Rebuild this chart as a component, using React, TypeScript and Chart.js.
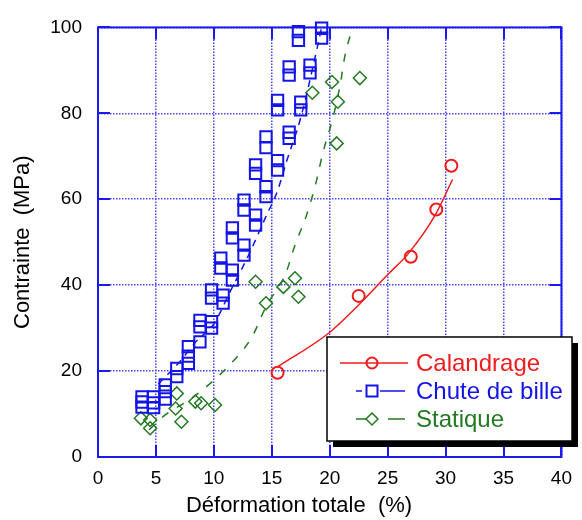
import React, { useEffect, useRef } from 'react';
import { Chart, registerables } from 'chart.js';

Chart.register(...registerables);

// ---- data -------------------------------------------------------------
const xTicks = [0, 5, 10, 15, 20, 25, 30, 35, 40];
const yTicks = [0, 20, 40, 60, 80, 100];

const calandrageX = [15.5, 22.5, 27.0, 29.2, 30.5];
const calandrageY = [19.6, 37.5, 46.6, 57.6, 67.8];
const calandrageFitX = [15.5, 19.9, 22.5, 25.1, 26.8, 29.1, 30.6];
const calandrageFitY = [21.0, 28.8, 35.4, 42.7, 47.4, 56.3, 64.6];

const chuteX = [3.8, 3.8, 3.8, 4.8, 4.8, 4.8, 5.8, 5.8, 5.8, 6.8, 6.8, 7.8, 7.8, 7.8, 8.8, 8.8, 8.8, 9.8, 9.8, 9.8, 9.8, 10.8, 10.8, 10.6, 10.6, 11.6, 11.6, 11.6, 11.6, 12.6, 12.6, 12.6, 12.6, 13.6, 13.6, 13.6, 13.6, 14.5, 14.5, 14.5, 14.5, 15.5, 15.5, 15.5, 15.5, 16.5, 16.5, 16.5, 16.5, 17.5, 17.5, 17.3, 17.3, 18.3, 18.3, 19.3, 19.3];
const chuteY = [14.0, 12.8, 11.6, 14.0, 12.6, 11.5, 16.8, 15.2, 13.5, 20.6, 18.7, 25.7, 23.5, 21.8, 26.8, 31.8, 30.3, 31.5, 30.0, 38.9, 37.0, 37.7, 35.8, 46.3, 44.0, 43.5, 41.2, 53.3, 51.0, 49.3, 47.0, 59.8, 57.5, 56.3, 54.0, 68.0, 66.0, 62.9, 60.6, 74.5, 72.0, 69.0, 66.8, 83.0, 80.8, 75.6, 74.2, 90.8, 88.9, 82.6, 80.8, 99.0, 97.0, 91.2, 89.4, 99.8, 97.5];
const chuteFitX = [5.2, 7.0, 8.5, 10.0, 11.5, 13.0, 14.5, 15.5, 16.3, 17.5, 18.9, 19.3];
const chuteFitY = [17.0, 22.0, 27.0, 31.0, 39.0, 47.0, 56.0, 62.0, 69.0, 79.0, 95.0, 100.0];

const statiqueX = [3.7, 4.5, 4.5, 7.2, 6.8, 6.7, 8.4, 8.9, 10.1, 13.6, 14.5, 16.0, 17.0, 17.3, 18.5, 20.2, 20.7, 20.6, 22.6];
const statiqueY = [9.0, 8.6, 6.7, 8.2, 14.8, 11.3, 12.9, 12.5, 12.1, 40.8, 35.8, 39.6, 41.6, 37.3, 84.8, 87.3, 82.7, 73.0, 88.2];
const statiqueFitX = [4.4, 5.8, 8.1, 11.2, 13.3, 14.5, 16.2, 17.0, 18.0, 18.8, 19.4, 20.3, 20.9, 21.3, 21.9];
const statiqueFitY = [6.3, 9.8, 13.7, 21.0, 28.0, 35.0, 42.7, 49.3, 56.3, 63.7, 70.7, 79.2, 86.6, 93.2, 99.4];

const seriesNames = ['Calandrage', 'Chute de bille', 'Statique'];
const xTitle = 'Déformation totale  (%)';
const yTitle = 'Contrainte  (MPa)';

// ---- styles -----------------------------------------------------------
const RED = '#f01c1c';
const BLUE = '#1414e6';
const GREEN = '#237a23';
const AXIS_BLUE = '#1a1af0';
const GRID_BLUE = '#4646f5';
const FONT = '"Liberation Sans", Arial, Helvetica, sans-serif';
const TICK_LEN = 12;

const pts = (xs: number[], ys: number[]) => xs.map((x, i) => ({ x, y: ys[i] }));

// frame around the plot with inward tick marks on all four sides
const frameTicks = {
  id: 'frameTicks',
  beforeDatasetsDraw(chart: any) {
    const { ctx, chartArea, scales } = chart;
    const { left, right, top, bottom } = chartArea;
    ctx.save();
    ctx.setLineDash([]);
    ctx.strokeStyle = AXIS_BLUE;
    ctx.lineWidth = 2;
    ctx.beginPath();
    scales.x.ticks.forEach((t: any) => {
      const px = Math.round(scales.x.getPixelForValue(t.value));
      ctx.moveTo(px, bottom);
      ctx.lineTo(px, bottom - TICK_LEN);
      ctx.moveTo(px, top);
      ctx.lineTo(px, top + TICK_LEN);
    });
    scales.y.ticks.forEach((t: any) => {
      const py = Math.round(scales.y.getPixelForValue(t.value));
      ctx.moveTo(left, py);
      ctx.lineTo(left + TICK_LEN, py);
      ctx.moveTo(right, py);
      ctx.lineTo(right - TICK_LEN, py);
    });
    ctx.stroke();
    ctx.strokeRect(left, top, right - left, bottom - top);
    ctx.restore();
  },
};

// axis title under the x axis, set a little left of the plot centre
const xAxisTitle = {
  id: 'xAxisTitle',
  afterDraw(chart: any) {
    const { ctx } = chart;
    ctx.save();
    ctx.fillStyle = '#000';
    ctx.font = `22px ${FONT}`;
    ctx.textAlign = 'center';
    ctx.textBaseline = 'middle';
    ctx.fillText(xTitle, 299, 506);
    ctx.restore();
  },
};

// boxed legend with drop shadow, lower right
const boxLegend = {
  id: 'boxLegend',
  afterDraw(chart: any) {
    const { ctx } = chart;
    const bx = 327, by = 337, bw = 245, bh = 104, sh = 6;
    ctx.save();
    ctx.setLineDash([]);
    ctx.fillStyle = '#000';
    ctx.fillRect(bx + sh, by + sh, bw, bh);
    ctx.fillStyle = '#fff';
    ctx.fillRect(bx, by, bw, bh);
    ctx.strokeStyle = '#000';
    ctx.lineWidth = 1.5;
    ctx.strokeRect(bx, by, bw, bh);

    const colors = [RED, BLUE, GREEN];
    const rows = [363, 391, 419];
    const mx = 372;
    ctx.lineWidth = 1.5;
    rows.forEach((ry, i) => {
      ctx.strokeStyle = colors[i];
      ctx.beginPath();
      if (i === 0) {
        ctx.moveTo(340, ry); ctx.lineTo(408, ry);
      } else if (i === 1) {
        ctx.moveTo(356, ry); ctx.lineTo(362, ry);
        ctx.moveTo(380, ry); ctx.lineTo(405, ry);
      } else {
        ctx.moveTo(356, ry); ctx.lineTo(367, ry);
        ctx.moveTo(388, ry); ctx.lineTo(405, ry);
      }
      ctx.stroke();
      ctx.lineWidth = 2;
      ctx.beginPath();
      if (i === 0) {
        ctx.arc(mx, ry, 5.5, 0, Math.PI * 2);
      } else if (i === 1) {
        ctx.rect(mx - 5.5, ry - 5.5, 11, 11);
      } else {
        ctx.lineWidth = 1.5;
        ctx.moveTo(mx, ry - 6); ctx.lineTo(mx + 6, ry); ctx.lineTo(mx, ry + 6); ctx.lineTo(mx - 6, ry); ctx.closePath();
      }
      ctx.stroke();
      ctx.lineWidth = 1.5;
      ctx.fillStyle = colors[i];
      ctx.font = `24px ${FONT}`;
      ctx.textBaseline = 'middle';
      ctx.textAlign = 'left';
      ctx.fillText(seriesNames[i], 416, ry + 1);
    });
    ctx.restore();
  },
};

export default function App() {
  const ref = useRef<HTMLCanvasElement | null>(null);

  useEffect(() => {
    if (!ref.current) return;
    const chart = new Chart(ref.current, {
      type: 'scatter',
      data: {
        datasets: [
          {
            label: seriesNames[0] + ' fit',
            data: pts(calandrageFitX, calandrageFitY),
            showLine: true,
            borderColor: RED,
            borderWidth: 1.5,
            pointRadius: 0,
            cubicInterpolationMode: 'monotone',
          },
          {
            label: seriesNames[0],
            data: pts(calandrageX, calandrageY),
            showLine: false,
            pointStyle: 'circle',
            pointRadius: 6,
            pointBorderWidth: 2,
            pointBorderColor: RED,
            pointBackgroundColor: 'rgba(0,0,0,0)',
          },
          {
            label: seriesNames[1] + ' fit',
            data: pts(chuteFitX, chuteFitY),
            showLine: true,
            borderColor: BLUE,
            borderWidth: 1.5,
            borderDash: [7, 6],
            pointRadius: 0,
            cubicInterpolationMode: 'monotone',
          },
          {
            label: seriesNames[1],
            data: pts(chuteX, chuteY),
            showLine: false,
            pointStyle: 'rect',
            pointRadius: 8,
            pointBorderWidth: 2,
            pointBorderColor: BLUE,
            pointBackgroundColor: 'rgba(0,0,0,0)',
            clip: false,
          },
          {
            label: seriesNames[2] + ' fit',
            data: pts(statiqueFitX, statiqueFitY),
            showLine: true,
            borderColor: GREEN,
            borderWidth: 1.5,
            borderDash: [8, 10],
            pointRadius: 0,
            cubicInterpolationMode: 'monotone',
          },
          {
            label: seriesNames[2],
            data: pts(statiqueX, statiqueY),
            showLine: false,
            pointStyle: 'rectRot',
            pointRadius: 6.5,
            pointBorderWidth: 1.5,
            pointBorderColor: GREEN,
            pointBackgroundColor: 'rgba(0,0,0,0)',
          },
        ] as any,
      },
      options: {
        animation: false,
        responsive: true,
        maintainAspectRatio: false,
        layout: { padding: { top: 27, right: 14, left: 0, bottom: 0 } },
        plugins: { legend: { display: false }, tooltip: { enabled: false } },
        scales: {
          x: {
            type: 'linear',
            min: 0,
            max: 40,
            afterBuildTicks: (s: any) => { s.ticks = xTicks.map((v) => ({ value: v })); },
            afterFit: (s: any) => { s.height = 63; },
            ticks: { color: '#000', font: { family: FONT, size: 19 }, padding: 10 },
            grid: { color: GRID_BLUE, lineWidth: 1.5, drawTicks: false },
            border: { display: false, dash: [1.5, 1.5] },
          },
          y: {
            type: 'linear',
            min: 0,
            max: 100,
            afterBuildTicks: (s: any) => { s.ticks = yTicks.map((v) => ({ value: v })); },
            afterFit: (s: any) => { s.width = 98; },
            ticks: { color: '#000', font: { family: FONT, size: 19 }, padding: 16 },
            grid: { color: GRID_BLUE, lineWidth: 1.5, drawTicks: false },
            border: { display: false, dash: [1.5, 1.5] },
            title: {
              display: true,
              text: yTitle,
              color: '#000',
              font: { family: FONT, size: 22 },
              padding: { top: 10, bottom: 0 },
            },
          },
        },
      },
      plugins: [frameTicks, xAxisTitle, boxLegend],
    });
    return () => chart.destroy();
  }, []);

  return (
    <div style={{ position: 'fixed', left: 0, top: 0, width: 582, height: 520, background: '#fff' }}>
      <canvas ref={ref} />
    </div>
  );
}
